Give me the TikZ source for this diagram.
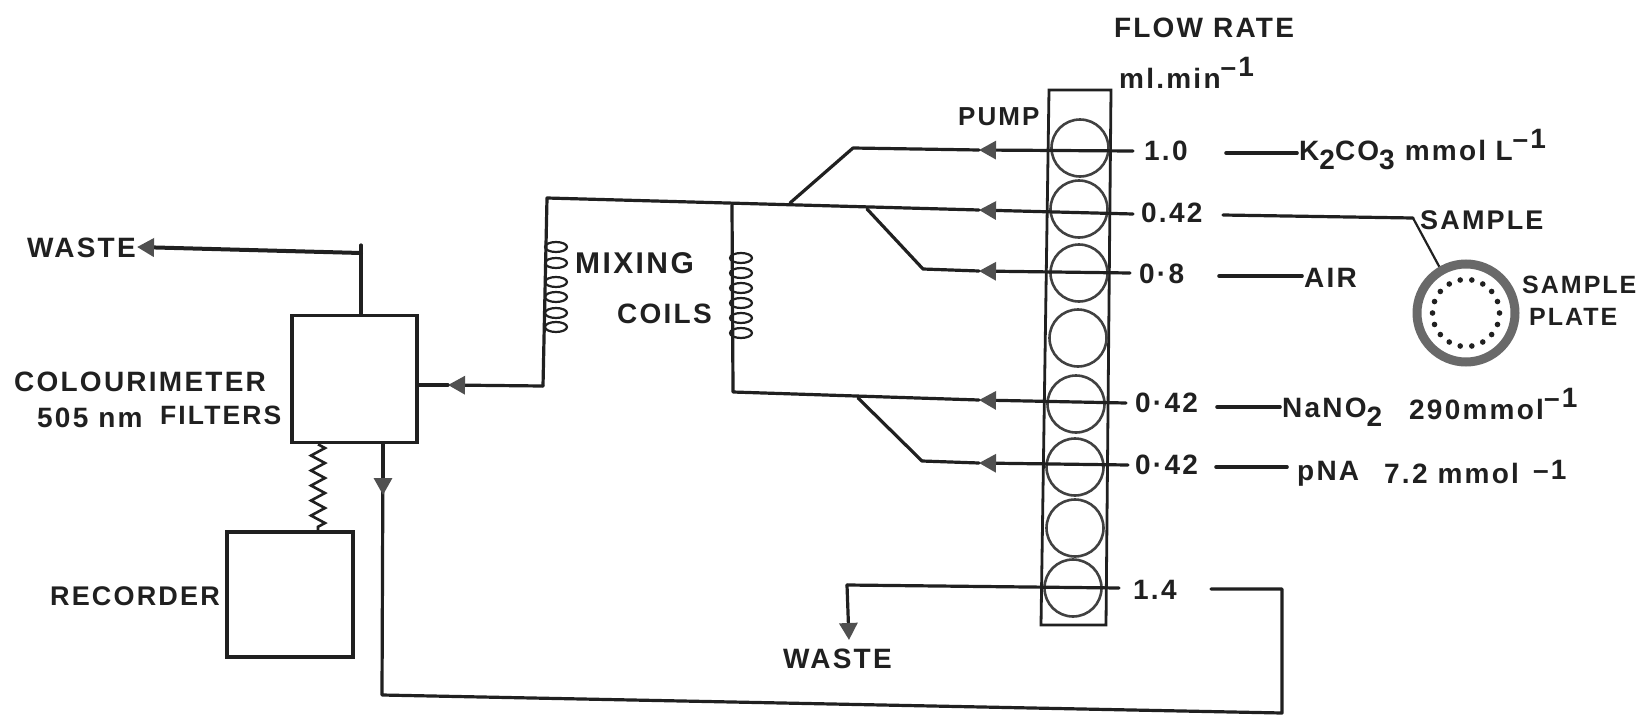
\documentclass[tikz,border=0pt]{standalone}
\usepackage{fontspec}
\setmainfont{Liberation Sans}[LetterSpace=8]
\usetikzlibrary{arrows.meta, decorations.pathmorphing}
\definecolor{ink}{RGB}{32, 32, 32}
\definecolor{tipgray}{RGB}{80, 80, 80}
\definecolor{ringgray}{RGB}{105, 105, 105}
\newcommand{\lsub}[1]{\raisebox{-9pt}{\fontsize{28}{30}\selectfont #1}}
\newcommand{\lsup}[1]{\raisebox{12pt}{\fontsize{28}{30}\selectfont #1}}

\begin{document}
\begin{tikzpicture}[x=1pt,y=-1pt]%
        \tikzstyle{annot} = [anchor=base west, inner sep=0pt, ink, font=\bfseries\fontsize{28}{30}\selectfont]
        \tikzstyle{wire} = [ink, line width=3.2pt, line join=round, line cap=round]
        \tikzstyle{thinwire} = [ink, line width=2.2pt]
        \tikzstyle{flow} = [wire, -{Triangle[length=17pt,width=18pt,fill=tipgray,color=tipgray]}]
        \tikzstyle{roller} = [draw=ink!85, line width=2.6pt, circle, minimum size=57pt, inner sep=0pt]
        \tikzstyle{unit} = [draw=ink, line width=3.6pt, minimum width=125pt, minimum height=127pt, inner sep=0pt]

        \useasboundingbox (0,0) rectangle (1644,715);

        % pump
        \coordinate (pumpA) at (1049,90);
        \coordinate (pumpB) at (1111,90);
        \coordinate (pumpC) at (1106,625);
        \coordinate (pumpD) at (1041,625);
        \draw[thinwire, line width=2.8pt] (pumpA) -- (pumpB) -- (pumpC) -- (pumpD) -- cycle;

        \foreach \n/\x/\y in {1/1080/148, 2/1079/209, 3/1079/273, 4/1078/338, 5/1076/404, 6/1075/467, 7/1075/528, 8/1073/588}{
          \node[roller] (roller\n) at (\x,\y) {};
        }

        % channels through the pump
        \foreach \n/\xe/\ye/\yt in {1/1133/151/150, 2/1133/214/210, 3/1130/273/271, 5/1126/403/400, 6/1128/465/463}{
          \coordinate (end\n) at (\xe,\ye);
          \coordinate (tip\n) at (979,\yt);
          \draw[flow] (end\n) -- (tip\n);
        }

        \coordinate (top1) at (853,148);
        \coordinate (join1) at (790,203);
        \draw[wire] (tip1) -- (top1) -- (join1);

        \coordinate (corner1) at (547,198);
        \coordinate (corner2) at (543,386);
        \coordinate (tipIn) at (448,385);
        \node[unit] (colour) at (354.5,379) {};
        \draw[wire] (tip2) -- (corner1) -- (corner2);
        \draw[flow] (corner2) -- (tipIn);
        \draw[wire] (tipIn) -- (colour.east |- tipIn);

        \coordinate (bend3) at (923,269);
        \coordinate (join3) at (867,209);
        \draw[wire] (tip3) -- (bend3) -- (join3);

        \coordinate (corner3) at (732,205);
        \coordinate (corner4) at (733,392);
        \draw[wire] (tip5) -- (corner4) -- (corner3);

        \coordinate (bend6) at (922,461);
        \coordinate (join6) at (858,398);
        \draw[wire] (tip6) -- (bend6) -- (join6);

        % mixing coils
        \foreach \y in {247, 263, 282, 297, 313, 327}{
          \draw[thinwire] (556,\y) ellipse (11pt and 5pt);
        }
        \foreach \y in {258, 273, 288, 303, 318, 333}{
          \draw[thinwire] (741,\y) ellipse (11pt and 5pt);
        }

        % waste lines
        \coordinate (wasteTop) at (361,245);
        \coordinate (wasteKnee) at (361,253);
        \coordinate (wasteTip) at (137,247);
        \draw[wire] (wasteTop) -- (colour.north -| wasteTop);
        \draw[flow, line width=4pt] (wasteKnee) -- (wasteTip);

        \coordinate (end8) at (1119,588);
        \coordinate (knee8) at (847,585);
        \coordinate (tip8) at (849,640);
        \draw[wire] (end8) -- (knee8);
        \draw[flow] (knee8) -- (tip8);

        % return to the colourimeter
        \coordinate (back1) at (1211,589);
        \coordinate (back2) at (1282,589);
        \coordinate (back3) at (1282,713);
        \coordinate (back4) at (382,695);
        \coordinate (backTip) at (383,495);
        \draw[wire] (back1) -- (back2) -- (back3) -- (back4) -- (colour.south -| backTip);
        \draw[flow] (colour.south -| backTip) -- (backTip);

        % recorder
        \node[unit, minimum width=126pt, minimum height=125pt] (recorder) at (290,594.5) {};
        \draw[thinwire, line width=2.6pt, decorate, decoration={zigzag, amplitude=7pt, segment length=15pt}] (colour.south -| 318,0) -- (recorder.north -| 318,0);

        % sample plate
        \node[draw=ringgray, line width=9pt, circle, minimum size=98pt, inner sep=0pt] (plate) at (1466,313) {};
        \foreach \a in {0,20,...,340}{
          \fill[ink] (plate.center) ++(\a:33.5) circle (2.8pt);
        }
        \coordinate (sampleA) at (1223,215);
        \coordinate (sampleB) at (1413,218);
        \draw[wire] (sampleA) -- (sampleB);
        \draw[thinwire] (sampleB) -- (plate.120);

        % reagent lines
        \foreach \n/\xa/\ya/\xb/\yb in {1/1226/153/1297/153, 3/1219/276/1302/276, 5/1217/407/1280/407, 6/1216/467/1287/467}{
          \coordinate (feedA\n) at (\xa,\ya);
          \coordinate (feedB\n) at (\xb,\yb);
          \draw[wire, line width=3.6pt] (feedA\n) -- (feedB\n);
        }

        % labels
        \node[annot, anchor=base] (flowrate) at (1204,37) {FLOW RATE};
        \node[annot] (flowunit) at (1119,88) {ml.min\lsup{--1}};
        \node[annot, font=\bfseries\fontsize{26}{30}\selectfont] (pumplabel) at (958,125) {PUMP};

        \node[annot] (rate1) at (1144,160) {1.0};
        \node[annot] (rate2) at (1141,222) {0.42};
        \node[annot] (rate3) at (1139,283) {0·8};
        \node[annot] (rate5) at (1135,412) {0·42};
        \node[annot] (rate6) at (1135,474) {0·42};
        \node[annot] (rate8) at (1133,599) {1.4};

        \node[annot] (potassium) at (1299,160) {K\lsub{2}CO\lsub{3} mmol\,\,L\lsup{--1}};
        \node[annot, font=\bfseries\fontsize{27}{30}\selectfont] (sample) at (1420,229) {SAMPLE};
        \node[annot] (air) at (1304,287) {AIR};
        \node[annot, font=\bfseries\fontsize{25}{30}\selectfont] (plateA) at (1522,293) {SAMPLE};
        \node[annot, font=\bfseries\fontsize{25}{30}\selectfont] (plateB) at (1529,325) {PLATE};
        \node[annot] (nitrite) at (1282,417) {NaNO\lsub{2}};
        \node[annot] (nitriteconc) at (1409,419) {290mmol\lsup{--1}};
        \node[annot] (pna) at (1297,480) {pNA};
        \node[annot] (pnaconc) at (1384,483) {7.2 mmol\,\,\,\raisebox{4pt}{--1}};

        \node[annot] (wasteB) at (783,668) {WASTE};
        \node[annot, font=\bfseries\fontsize{30}{30}\selectfont] (mixing) at (575,273) {MIXING};
        \node[annot] (coils) at (617,323) {COILS};
        \node[annot] (wasteA) at (27,257) {WASTE};
        \node[annot] (colourlabel) at (14,391) {COLOURIMETER};
        \node[annot] (wavelength) at (37,427) {505 nm};
        \node[annot, font=\bfseries\fontsize{26.5}{30}\selectfont] (filters) at (160,424) {FILTERS};
        \node[annot, font=\bfseries\fontsize{27}{30}\selectfont] (recorderlabel) at (50,605) {RECORDER};
      \end{tikzpicture}
\end{document}
